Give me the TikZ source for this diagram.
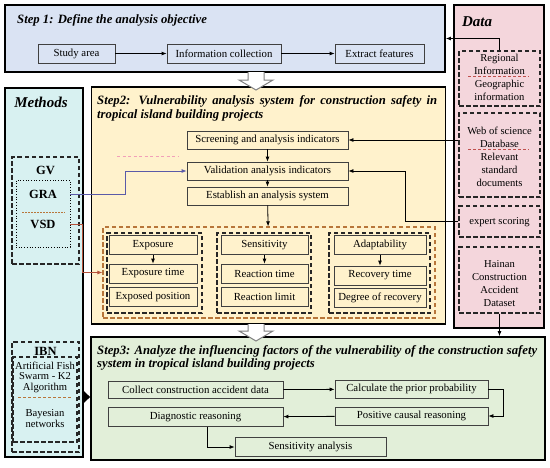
\documentclass[tikz,border=0pt]{standalone}
\usepackage{fontspec}
\setmainfont{Liberation Serif}
\usetikzlibrary{arrows.meta,calc}
\definecolor{cA}{HTML}{DAE3F3}
\definecolor{cData}{HTML}{F4D6DC}
\definecolor{cMeth}{HTML}{D8F1F1}
\definecolor{cB}{HTML}{FFF2CC}
\definecolor{cC}{HTML}{E2EFD9}
\definecolor{cBrown}{HTML}{B8763A}
\definecolor{cRed}{HTML}{C0504D}
\definecolor{cBlue}{HTML}{5A5AA8}
\definecolor{cVsd}{HTML}{B5533C}
\definecolor{cPink}{HTML}{F2A0B8}
\begin{document}
\begin{tikzpicture}[x=1pt,y=-1pt,
  container/.style={draw=black, line width=1.8pt, inner sep=0pt},
  box/.style={draw=black!75, line width=0.8pt, inner sep=0pt, font=\fontsize{10.8}{12}\selectfont},
  dbox/.style={draw=black!85, line width=1.3pt, dash pattern=on 4.5pt off 2.5pt, inner sep=0pt},
  txt/.style={inner sep=0pt, font=\fontsize{10.6}{13}\selectfont, align=center},
  title/.style={inner sep=0pt, font=\fontsize{12.7}{14}\selectfont\bfseries\itshape},
  bigtitle/.style={inner sep=0pt, font=\fontsize{15}{17}\selectfont\bfseries\itshape},
  btxt/.style={inner sep=0pt, font=\fontsize{12.5}{14}\selectfont\bfseries},
  arr/.style={-{Latex[length=5pt,width=4pt]}, line width=0.8pt},
  sep/.style={draw=cRed, line width=0.8pt, dash pattern=on 3pt off 2pt},
  hollow/.style={draw=black!50, line width=1pt, fill=white}
]
\useasboundingbox (0,0) rectangle (550,467);
% containers
\node[container, fill=cA, minimum width=440, minimum height=67] (step1) at (225,38.5) {};
\node[container, fill=cData, minimum width=90, minimum height=323] (data) at (499,166.5) {};
\node[container, fill=cMeth, minimum width=78, minimum height=369] (methods) at (44,272.5) {};
\node[container, fill=cB, minimum width=354, minimum height=237] (step2) at (268.5,205.5) {};
\node[container, fill=cC, minimum width=454, minimum height=123] (step3) at (318,398.5) {};

% Step 1
\node[title, anchor=west] (t1) at (17,20) {Step 1: Define the analysis objective};
\node[box, minimum width=77, minimum height=19] (study) at (76.5,53.5) {Study area};
\node[box, minimum width=114, minimum height=19] (info) at (224,53.5) {Information collection};
\node[box, minimum width=89, minimum height=19] (extract) at (379.5,53.5) {Extract features};
\draw[arr] (study) -- (info);
\draw[arr] (info) -- (extract);

% Data
\node[bigtitle] (tdata) at (477,22) {Data};
\node[dbox, minimum width=81, minimum height=55] (d1) at (499.5,78.5) {};
\node[dbox, minimum width=81, minimum height=84] (d2) at (499.5,155) {};
\node[dbox, minimum width=81, minimum height=31] (d3) at (499.5,221.5) {};
\node[dbox, minimum width=81, minimum height=66] (d4) at (499.5,280) {};
\node[txt] (d1t) at (499.5,77.5) {Regional\\Information\\Geographic\\information};
\node[txt] (d2t) at (499.5,156.5) {Web of science\\Database\\Relevant\\standard\\documents};
\node[txt] (d3t) at (499.5,222) {expert scoring};
\node[txt] (d4t) at (499.5,283.5) {Hainan\\Construction\\Accident\\Dataset};
\draw[sep] (468,76) -- (529,76);
\draw[sep] (468,149) -- (529,149);

% Methods
\node[bigtitle] (tmeth) at (41,102) {Methods};
\node[dbox, minimum width=67, minimum height=107] (gv) at (45.5,210.5) {};
\node[draw=black, line width=0.7pt, dotted, inner sep=0pt, minimum width=54, minimum height=67] (gravsd) at (43,213.5) {};
\node[btxt] (gvt) at (45.5,170) {GV};
\node[btxt] (gra) at (43,194) {GRA};
\node[btxt] (vsd) at (43,224) {VSD};
\draw[draw=cBrown, line width=0.7pt, dash pattern=on 2pt off 1pt] (22,212) -- (65,212);
\node[dbox, minimum width=67, minimum height=110] (ibn) at (45.5,397) {};
\node[dbox, minimum width=64, minimum height=85] (ibnin) at (45,399.5) {};
\node[btxt] (ibnt) at (45.5,351) {IBN};
\node[txt, font=\fontsize{10.6}{10.5}\selectfont] (afs) at (45,377) {Artificial Fish\\Swarm - K2\\Algorithm};
\node[txt, font=\fontsize{10.6}{11.5}\selectfont] (bn) at (45,418.5) {Bayesian\\networks};
\draw[draw=cBrown, line width=0.7pt, dash pattern=on 3pt off 2pt] (18,397) -- (72,397);

% Step 2
\node[title, anchor=north west, align=left] (t2) at (97,95) {\makebox[340pt][s]{Step2: Vulnerability analysis system for construction safety in}\\tropical island building projects};
\node[box, minimum width=161, minimum height=18] (screen) at (267.5,140) {Screening and analysis indicators};
\node[box, minimum width=161, minimum height=18] (valid) at (267.5,171) {Validation analysis indicators};
\node[box, minimum width=161, minimum height=18] (estab) at (267.5,196) {Establish an analysis system};
\draw[draw=cPink, line width=0.8pt, dash pattern=on 3pt off 2.5pt] (117,156) -- (178,156);
\node[draw=cBrown, line width=1.3pt, dash pattern=on 4.5pt off 2.5pt, inner sep=0pt, minimum width=332, minimum height=91] (grp) at (269,272.5) {};
\node[dbox, minimum width=95, minimum height=80] (g1) at (154.5,273) {};
\node[dbox, minimum width=94, minimum height=80] (g2) at (264,273) {};
\node[dbox, minimum width=101, minimum height=80] (g3) at (379.5,273) {};
\node[box, minimum width=88, minimum height=19] (expo) at (153,245) {Exposure};
\node[box, minimum width=88, minimum height=19] (expot) at (153,273.5) {Exposure time};
\node[box, minimum width=88, minimum height=19] (expop) at (153,297) {Exposed position};
\node[box, minimum width=87, minimum height=19] (sens) at (264.5,245) {Sensitivity};
\node[box, minimum width=87, minimum height=19] (sensr) at (264.5,273.5) {Reaction time};
\node[box, minimum width=87, minimum height=19] (sensl) at (264.5,297) {Reaction limit};
\node[box, minimum width=92, minimum height=19] (adap) at (380,245) {Adaptability};
\node[box, minimum width=92, minimum height=19] (adapr) at (380,275.5) {Recovery time};
\node[box, minimum width=92, minimum height=19] (adapd) at (380,297.5) {Degree of recovery};
\draw[arr] (screen) -- (valid);
\draw[arr] (valid) -- (estab);
\draw[arr] (estab) -- (grp);
\draw[arr] (expo) -- (expot);
\draw[arr] (sens) -- (sensr);
\draw[arr] (adap) -- (adapr);

% Step 3
\node[title, anchor=north west, align=left, font=\fontsize{12.7}{13.5}\selectfont\bfseries\itshape] (t3) at (97,345) {\makebox[440pt][s]{Step3: Analyze the influencing factors of the vulnerability of the construction safety}\\system in tropical island building projects};
\node[box, minimum width=175, minimum height=17] (collect) at (195.5,390) {Collect construction accident data};
\node[box, minimum width=153, minimum height=18] (calc) at (411.5,389) {Calculate the prior probability};
\node[box, minimum width=153, minimum height=18] (pos) at (411.5,416) {Positive causal reasoning};
\node[box, minimum width=175, minimum height=19] (diag) at (195.5,417) {Diagnostic reasoning};
\node[box, minimum width=151, minimum height=19] (sana) at (310.5,447) {Sensitivity analysis};
\draw[arr] (collect) -- (calc);
\draw[arr] (calc.east) -- ++(15,0) |- (pos.east);
\draw[arr] (pos) -- (diag);
\draw[arr] ([xshift=11.5pt]diag.south) |- (sana.west);

% cross connectors
\draw[arr] (d1.north) |- (step1.east);
\draw[arr] (d2.west |- screen) -- (screen.east);
\draw[arr] (d3.west) -- ++(-53,0) |- (valid.east);
\draw[arr] (d4.south) -- (d4.south |- step3.north);
\draw[arr, draw=cBlue, -{Latex[length=5pt,width=4pt,fill=cBlue]}] (gravsd.east |- gra) -- ++(55,0) |- (valid.west);
\draw[arr, draw=cVsd] (gravsd.east |- vsd) -- ++(12,0) |- (grp.west);
\coordinate (ibny) at (0,397);
\draw[line width=4pt, -{Triangle[length=7pt,width=13pt]}] (methods.east |- ibny) -- (step3.west |- ibny);

% hollow arrows
\filldraw[hollow] (248,72) -- (248,80) -- (239,80) -- (256,90) -- (273,80) -- (264,80) -- (264,72);
\filldraw[hollow] (248,324) -- (248,331) -- (239,331) -- (256,341) -- (273,331) -- (264,331) -- (264,324);
\end{tikzpicture}
\end{document}
